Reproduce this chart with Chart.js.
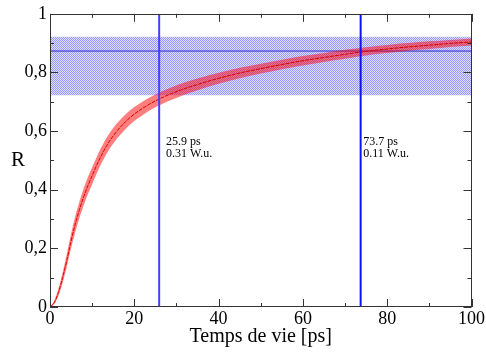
<!DOCTYPE html>
<html><head><meta charset="utf-8">
<script src="https://cdn.jsdelivr.net/npm/chart.js@4/dist/chart.umd.min.js"></script>
<style>html,body{margin:0;padding:0;background:#fff;}canvas{display:block;}</style>
</head><body>
<canvas id="c" width="486" height="352"></canvas>
<script>
// ---- data ----
const times   = [0,1,2,3,4,5,6,7,8,9,10,12,14,16,18,20,22,25,28,31,35,40,45,50,55,60,65,70,75,80,85,90,95,100];
const rValues = [0,0.015,0.05,0.10,0.16,0.225,0.283,0.333,0.376,0.414,0.448,0.512,0.563,0.602,0.633,0.658,0.678,0.703,0.723,0.740,0.759,0.780,0.798,0.813,0.827,0.840,0.851,0.862,0.872,0.880,0.887,0.893,0.899,0.904];
const rErr    = [0,0.006,0.012,0.018,0.022,0.025,0.027,0.028,0.029,0.029,0.029,0.028,0.027,0.026,0.025,0.024,0.023,0.022,0.021,0.021,0.02,0.019,0.018,0.017,0.016,0.016,0.015,0.015,0.014,0.014,0.013,0.013,0.012,0.012];
const bandLow = 0.722, bandHigh = 0.922, refR = 0.873;
const lifetimes = [25.9, 73.7];
const lifetimeLabels = [["25.9 ps","0.31 W.u."],["73.7 ps","0.11 W.u."]];
const labelX = [27.5, 74.3];
const labelY = 0.553;
const xRange = [0, 100];
const yRange = [0, 1];
const xTitle = 'Temps de vie [ps]';
const yTitle = 'R';

// ---- derived datasets ----
const center = times.map((t,i)=>({x:t,y:rValues[i]}));
const upper  = times.map((t,i)=>({x:t,y:rValues[i]+rErr[i]}));
const lower  = times.map((t,i)=>({x:t,y:rValues[i]-rErr[i]}));
const vline = v => [{x:v,y:yRange[0]},{x:v,y:yRange[1]}];
const hline = v => [{x:xRange[0],y:v},{x:xRange[1],y:v}];

// hatch pattern for blue band
const pc = document.createElement('canvas'); pc.width = 2; pc.height = 2;
const pctx = pc.getContext('2d');
pctx.fillStyle = '#dedeff'; pctx.fillRect(0,0,2,2);
pctx.fillStyle = '#9898ff'; pctx.fillRect(0,0,1,1); pctx.fillRect(1,1,1,1);
const hatch = pctx.createPattern(pc, 'repeat');

const serif = "'Liberation Serif','DejaVu Serif',serif";

const decor = {
  id: 'decor',
  afterDraw(chart) {
    const {ctx, chartArea: a, scales: {x, y}} = chart;
    ctx.save();
    ctx.strokeStyle = '#333'; ctx.lineWidth = 1;
    ctx.beginPath();
    x.ticks.forEach(t => {
      const px = Math.round(x.getPixelForValue(t.value)) + 0.5;
      const L = t.label !== '' ? 8 : 4;
      ctx.moveTo(px, a.bottom); ctx.lineTo(px, a.bottom - L);
      ctx.moveTo(px, a.top); ctx.lineTo(px, a.top + L);
    });
    y.ticks.forEach(t => {
      const py = Math.round(y.getPixelForValue(t.value)) + 0.5;
      const L = t.label !== '' ? 8 : 4;
      ctx.moveTo(a.left, py); ctx.lineTo(a.left + L, py);
      ctx.moveTo(a.right, py); ctx.lineTo(a.right - L, py);
    });
    ctx.stroke();
    ctx.strokeRect(Math.round(a.left)+0.5, Math.round(a.top)+0.5, Math.round(a.right-a.left)-1, Math.round(a.bottom-a.top)-1);
    ctx.fillStyle = '#000';
    ctx.font = "12px " + serif;
    ctx.textAlign = 'left'; ctx.textBaseline = 'alphabetic';
    lifetimeLabels.forEach((lines, i) => {
      const px = x.getPixelForValue(labelX[i]);
      const py = y.getPixelForValue(labelY);
      lines.forEach((s, k) => ctx.fillText(s, px, py + k * 12));
    });
    // axis titles
    ctx.font = "21px " + serif;
    ctx.textAlign = 'center'; ctx.textBaseline = 'middle';
    ctx.fillText(yTitle, 18, (a.top + a.bottom) / 2);
    ctx.font = "20px " + serif;
    ctx.fillText(xTitle, (a.left + a.right) / 2, 337);
    ctx.restore();
  }
};

const fmt = v => {
  const n = Math.round(v * 10);
  if (n % 2 !== 0) return '';
  return String(n / 10).replace('.', ',');
};

new Chart(document.getElementById('c'), {
  type: 'line',
  data: {
    datasets: [
      {data: vline(lifetimes[0]), borderColor: '#4040ff', borderWidth: 2, pointRadius: 0, fill: false},
      {data: vline(lifetimes[1]), borderColor: '#1010ff', borderWidth: 2, pointRadius: 0, fill: false},
      {data: center, borderColor: '#d80000', borderWidth: 1, borderDash: [4,1], pointRadius: 0, fill: false, cubicInterpolationMode: 'monotone'},
      {data: upper, borderColor: 'rgba(0,0,0,0)', borderWidth: 0, pointRadius: 0, backgroundColor: 'rgba(255,0,0,0.5)', fill: {target: 4}, cubicInterpolationMode: 'monotone'},
      {data: lower, borderColor: 'rgba(0,0,0,0)', borderWidth: 0, pointRadius: 0, fill: false, cubicInterpolationMode: 'monotone'},
      {data: hline(refR), borderColor: '#2a2ad0', borderWidth: 1, pointRadius: 0, fill: false},
      {data: hline(bandHigh), borderColor: 'rgba(0,0,0,0)', borderWidth: 0, pointRadius: 0, backgroundColor: hatch, fill: {target: 7}},
      {data: hline(bandLow), borderColor: 'rgba(0,0,0,0)', borderWidth: 0, pointRadius: 0, fill: false}
    ]
  },
  options: {
    responsive: false, animation: false, devicePixelRatio: 1,
    layout: {padding: {top: 12, right: 14, left: 0, bottom: 0}},
    plugins: {legend: {display: false}, tooltip: {enabled: false}},
    scales: {
      x: {
        type: 'linear', min: xRange[0], max: xRange[1],
        grid: {display: false, drawTicks: false}, border: {display: false},
        ticks: {stepSize: 10, autoSkip: false, maxRotation: 0, padding: 1, color: '#000',
                font: {family: serif, size: 18}, callback: v => (Math.round(v) % 20 === 0 ? String(Math.round(v)) : '')},
        afterFit: s => { s.height = 45; }
      },
      y: {
        type: 'linear', min: yRange[0], max: yRange[1],
        grid: {display: false, drawTicks: false}, border: {display: false},
        ticks: {stepSize: 0.1, autoSkip: false, padding: 3, color: '#000',
                font: {family: serif, size: 18}, callback: v => fmt(v)},
        afterFit: s => { s.width = 50; }
      }
    }
  },
  plugins: [decor]
});
</script>
</body></html>
